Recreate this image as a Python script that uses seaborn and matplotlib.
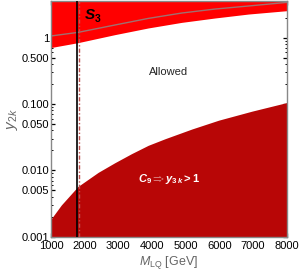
import numpy as np
import pandas as pd
import matplotlib
matplotlib.use("Agg")
import matplotlib.pyplot as plt
import seaborn as sns
from matplotlib.ticker import FixedLocator, MultipleLocator, LogLocator, NullFormatter

# lower excluded region (C9 => y3k > 1)
mass_low = [1000, 1307, 1800, 2400, 2895, 3390, 3887, 4393, 5187, 5980, 6970, 8000]
y_low = [0.00184, 0.0030, 0.0057, 0.0093, 0.0130, 0.0178, 0.0238, 0.0300, 0.0420, 0.0570, 0.078, 0.105]

# upper excluded region (S3)
mass_up = [1000, 1800, 2895, 3887, 4878, 5870, 6860, 8000]
y_up = [0.71, 0.84, 1.11, 1.40, 1.70, 1.98, 2.27, 2.55]

# gray line inside upper region
mass_gray = [1000, 1800, 2895, 3887, 4878, 5870, 6860, 8000]
y_gray = [1.06, 1.2, 1.55, 1.95, 2.35, 2.7, 3.0, 3.4]

m_black = 1780
m_dash = 1830

y_ticks = [0.001, 0.005, 0.010, 0.050, 0.100, 0.500, 1]
y_ticklabels = ["0.001", "0.005", "0.010", "0.050", "0.100", "0.500", "1"]
x_ticks = [1000, 2000, 3000, 4000, 5000, 6000, 7000, 8000]

sns.set_style("ticks")
plt.rcParams['font.family'] = ['Liberation Sans', 'DejaVu Sans']
plt.rcParams['mathtext.fontset'] = 'custom'
plt.rcParams['mathtext.rm'] = 'Liberation Sans'
plt.rcParams['mathtext.it'] = 'Liberation Sans:italic'
plt.rcParams['mathtext.bf'] = 'Liberation Sans:bold'
plt.rcParams['mathtext.bfit'] = 'Liberation Sans:bold:italic'

fig = plt.figure(figsize=(3.0, 2.71), dpi=100)
ax = fig.add_axes([0.17, 0.127, 0.786, 0.869])
ymin, ymax = 0.001, 3.56

ax.fill_between(mass_low, ymin, y_low, color='#b80606', lw=0, zorder=1)
ax.fill_between(mass_up, y_up, ymax, color='#ff0000', lw=0, zorder=1)
gray_df = pd.DataFrame({"M": mass_gray, "y": y_gray})
sns.lineplot(data=gray_df, x="M", y="y", color='#a07070', lw=1.0, ax=ax, zorder=2)

ax.axvline(m_black, color='black', lw=1.2, zorder=3)
ax.axvline(m_dash, color='#c05050', lw=1.0, ls=(0, (3, 1.5, 1, 1.5)), zorder=3)

ax.set_yscale('log')
ax.set_xlim(1000, 8000)
ax.set_ylim(ymin, ymax)
ax.yaxis.set_major_locator(FixedLocator(y_ticks))
ax.set_yticklabels(y_ticklabels)
ax.yaxis.set_minor_locator(LogLocator(base=10, subs=np.arange(2, 10)))
ax.yaxis.set_minor_formatter(NullFormatter())
ax.set_xticks(x_ticks)
ax.xaxis.set_minor_locator(MultipleLocator(250))

ax.tick_params(which='both', direction='in', top=True, right=True, colors='black',
               labelsize=8, pad=1.5)
ax.tick_params(axis='x', pad=3)
ax.tick_params(which='major', length=3, width=0.9)
ax.tick_params(which='minor', length=1.6, width=0.7)
for sp in ax.spines.values():
    sp.set_color('#888888')
    sp.set_linewidth(1.0)

ax.set_xlabel(r"$M_{\rm LQ}$ [GeV]", color='#666666', fontsize=9, labelpad=2)
ax.set_ylabel(r"$y_{2k}$", color='#666666', fontsize=11, labelpad=1)

ax.text(0.142, 0.94, "S", transform=ax.transAxes, fontsize=11, color='black',
        fontstyle='italic', fontweight='bold', va='center', ha='left')
ax.text(0.186, 0.922, "3", transform=ax.transAxes, fontsize=7.5, color='black',
        fontweight='bold', va='center', ha='left')
ax.text(0.5, 0.698, "Allowed", transform=ax.transAxes, fontsize=8, ha='center', va='center')
ax.text(0.5, 0.245, r"$\mathbfit{C}_\mathbf{9} \Rightarrow \mathbfit{y}_{\mathbf{3}\,\mathbfit{k}} \mathbf{> 1}$",
        transform=ax.transAxes, fontsize=8, color='white', ha='center', va='center')

fig.savefig("out.png", dpi=100)
